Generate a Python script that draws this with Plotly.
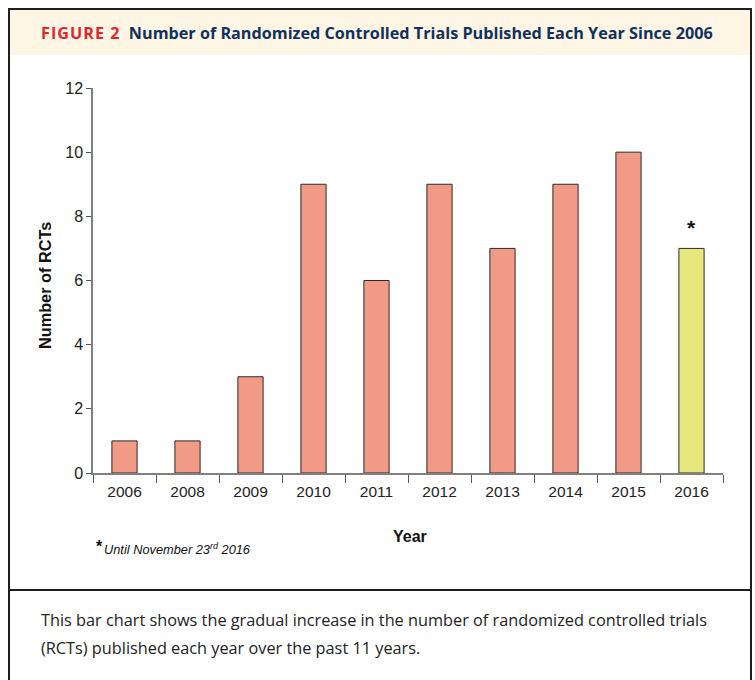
import plotly.graph_objects as go

# data
years = ["2006", "2008", "2009", "2010", "2011", "2012", "2013", "2014", "2015", "2016"]
rct_counts = [1, 1, 3, 9, 6, 9, 7, 9, 10, 7]
bar_colors = ["#F19A86"] * 9 + ["#E6E87E"]

W, H = 755, 680
# plot area in pixels (left, right, top, bottom)
PX0, PX1, PY0, PY1 = 93, 723, 88, 473


def px(x):
    """pixel x -> paper x"""
    return (x - PX0) / (PX1 - PX0)


def py(y):
    """pixel y -> paper y"""
    return (PY1 - y) / (PY1 - PY0)


fig = go.Figure()
fig.add_trace(go.Bar(
    x=years,
    y=rct_counts,
    width=0.4,
    marker=dict(color=bar_colors, line=dict(color="#2a2a2a", width=1)),
    hoverinfo="x+y",
))

frame = "#1e1e1e"
shapes = [
    # header band
    dict(type="rect", xref="paper", yref="paper", x0=px(9), x1=px(752), y0=py(55), y1=py(9),
         fillcolor="#FDF6E4", line=dict(width=0), layer="below"),
    # outer frame
    dict(type="rect", xref="paper", yref="paper", x0=px(9), x1=px(751), y0=py(700), y1=py(9),
         line=dict(color=frame, width=2)),
    # divider above caption
    dict(type="line", xref="paper", yref="paper", x0=px(9), x1=px(751), y0=py(590), y1=py(590),
         line=dict(color=frame, width=2)),
]

title_html = ("<span style='color:#E2262C;letter-spacing:1px'>FIGURE 2</span>  "
              "<span style='color:#12305E'>Number of Randomized Controlled Trials Published Each Year Since 2006</span>")

annotations = [
    dict(text="<b>" + title_html + "</b>", xref="paper", yref="paper", x=px(39), y=py(33),
         xanchor="left", yanchor="middle", showarrow=False,
         font=dict(family="Open Sans", size=16.2)),
    # star over the partial-year bar (category index of the last year)
    dict(text="<b>*</b>", x=len(years) - 1, y=rct_counts[-1], xref="x", yref="y",
         yanchor="middle", yshift=21, showarrow=False,
         font=dict(family="Liberation Sans", size=21, color="#111")),
    # axis titles
    dict(text="<b>Year</b>", xref="paper", yref="paper", x=px(410), y=py(536),
         xanchor="center", yanchor="middle", showarrow=False,
         font=dict(family="Liberation Sans", size=16, color="#111")),
    dict(text="<b>Number of RCTs</b>", xref="paper", yref="paper", x=px(45), y=py(285),
         xanchor="center", yanchor="middle", textangle=-90, showarrow=False,
         font=dict(family="Liberation Sans", size=16.3, color="#111")),
    # footnote
    dict(text="<b>*</b>", xref="paper", yref="paper", x=px(94), y=py(546),
         xanchor="left", yanchor="middle", showarrow=False,
         font=dict(family="Liberation Sans", size=16, color="#111")),
    dict(text="<i>Until November 23<sup>rd</sup> 2016</i>", xref="paper", yref="paper",
         x=px(102), y=py(549), xanchor="left", yanchor="middle", showarrow=False,
         font=dict(family="Liberation Sans", size=12.8, color="#111")),
    # caption, two lines
    dict(text="This bar chart shows the gradual increase in the number of randomized controlled trials",
         xref="paper", yref="paper", x=px(39), y=py(620), xanchor="left", yanchor="middle",
         showarrow=False, font=dict(family="Open Sans", size=16.3, color="#222")),
    dict(text="(RCTs) published each year over the past 11 years.",
         xref="paper", yref="paper", x=px(39), y=py(648), xanchor="left", yanchor="middle",
         showarrow=False, font=dict(family="Open Sans", size=16.3, color="#222")),
]

fig.update_layout(
    width=W, height=H,
    margin=dict(l=PX0, r=W - PX1, t=PY0, b=H - PY1, pad=0),
    paper_bgcolor="white", plot_bgcolor="white",
    showlegend=False,
    font=dict(family="Liberation Sans", size=15, color="#222"),
    shapes=shapes,
    annotations=annotations,
    xaxis=dict(
        type="category", range=[-0.5, len(years) - 0.5],
        showline=True, linecolor="#808080", linewidth=1.5,
        ticks="outside", tickson="boundaries", ticklen=8, tickcolor="#555",
        ticklabelstandoff=4, tickfont=dict(size=15.5),
        showgrid=False, zeroline=False,
    ),
    yaxis=dict(
        range=[0, 12], dtick=2,
        showline=True, linecolor="#808080", linewidth=1.5,
        ticks="outside", ticklen=5, tickcolor="#555",
        tickfont=dict(size=16),
        showgrid=False, zeroline=False,
    ),
)

# drop the browser's default 8px body margin so the figure sits at the window origin
fig.write_html("out.html", config={"displayModeBar": False},
               post_script="document.body.style.margin='0';")
